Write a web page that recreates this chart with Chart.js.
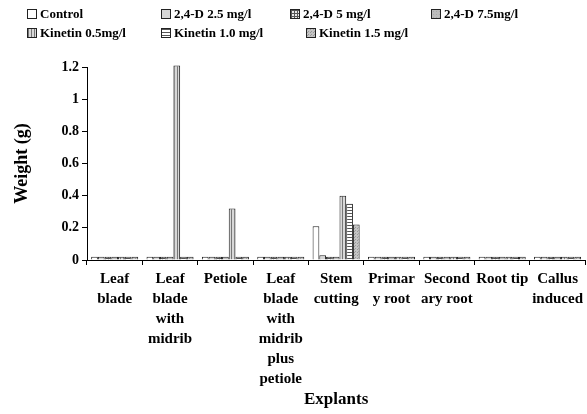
<!DOCTYPE html>
<html>
<head>
<meta charset="utf-8">
<script src="https://cdn.jsdelivr.net/npm/chart.js@4/dist/chart.umd.min.js"></script>
<style>
  html, body { margin: 0; padding: 0; background: #fff; }
  #wrap { position: relative; width: 587px; height: 414px; }
  #legend { position: absolute; left: 0; top: 0; width: 587px; height: 45px;
    font: bold 13px "Liberation Serif", serif; color: #000; }
  .item { position: absolute; white-space: nowrap; line-height: 14px; }
  .box { display: inline-block; width: 8px; height: 8px; border: 1px solid #222;
    margin-right: 3px; vertical-align: -1px; }
</style>
</head>
<body>
<div id="wrap">
  <canvas id="chart" width="587" height="414"></canvas>
  <div id="legend"></div>
</div>
<script>
// data
const categories = [
  ['Leaf', 'blade'],
  ['Leaf', 'blade', 'with', 'midrib'],
  ['Petiole'],
  ['Leaf', 'blade', 'with', 'midrib', 'plus', 'petiole'],
  ['Stem', 'cutting'],
  ['Primar', 'y root'],
  ['Second', 'ary root'],
  ['Root tip'],
  ['Callus', 'induced']
];
const seriesNames = ['Control', '2,4-D 2.5 mg/l', '2,4-D 5 mg/l', '2,4-D 7.5mg/l',
  'Kinetin 0.5mg/l', 'Kinetin 1.0 mg/l', 'Kinetin 1.5 mg/l'];
const control = [0.02, 0.02, 0.02, 0.02, 0.21, 0.02, 0.02, 0.02, 0.02];
const d25     = [0.02, 0.02, 0.02, 0.02, 0.03, 0.02, 0.02, 0.02, 0.02];
const d5      = [0.02, 0.02, 0.02, 0.02, 0.02, 0.02, 0.02, 0.02, 0.02];
const d75     = [0.02, 0.02, 0.02, 0.02, 0.02, 0.02, 0.02, 0.02, 0.02];
const k05     = [0.02, 1.21, 0.32, 0.02, 0.40, 0.02, 0.02, 0.02, 0.02];
const k10     = [0.02, 0.02, 0.02, 0.02, 0.35, 0.02, 0.02, 0.02, 0.02];
const k15     = [0.02, 0.02, 0.02, 0.02, 0.22, 0.02, 0.02, 0.02, 0.02];
const yTicks = [0, 0.2, 0.4, 0.6, 0.8, 1, 1.2];

const seriesValues = [control, d25, d5, d75, k05, k10, k15];
const fills = ['white', 'light', 'grid', 'medium', 'vlines', 'hlines', 'dots'];

// small pattern tiles, used for bars and legend boxes
function tile(kind) {
  const c = document.createElement('canvas');
  c.width = c.height = 3;
  const g = c.getContext('2d');
  const bg = { white: '#fff', light: '#d6d6d6', grid: '#e8e8e8', medium: '#bcbcbc',
    vlines: '#d8d8d8', hlines: '#fff', dots: '#c4c4c4' }[kind];
  g.fillStyle = bg;
  g.fillRect(0, 0, 3, 3);
  g.fillStyle = '#555';
  if (kind === 'grid') { g.fillRect(0, 0, 3, 1); g.fillRect(0, 0, 1, 3); }
  if (kind === 'vlines') { g.fillStyle = '#777'; g.fillRect(0, 0, 1, 3); }
  if (kind === 'hlines') { g.fillRect(0, 0, 3, 1); }
  if (kind === 'dots') { g.fillStyle = '#999'; g.fillRect(0, 0, 1, 1); g.fillRect(1, 2, 1, 1); }
  if (kind === 'medium') { g.fillStyle = '#a8a8a8'; g.fillRect(1, 1, 1, 1); }
  return c;
}

const ctx = document.getElementById('chart').getContext('2d');

// legend laid out in two rows
const legendPos = [[27, 7], [161, 7], [290, 7], [431, 7], [27, 26], [161, 26], [306, 26]];
const legend = document.getElementById('legend');
seriesNames.forEach((name, i) => {
  const item = document.createElement('div');
  item.className = 'item';
  item.style.left = legendPos[i][0] + 'px';
  item.style.top = legendPos[i][1] + 'px';
  const box = document.createElement('span');
  box.className = 'box';
  box.style.backgroundImage = 'url(' + tile(fills[i]).toDataURL() + ')';
  item.appendChild(box);
  item.appendChild(document.createTextNode(name));
  legend.appendChild(item);
});

new Chart(ctx, {
  type: 'bar',
  data: {
    labels: categories,
    datasets: seriesNames.map((name, i) => ({
      label: name,
      data: seriesValues[i],
      backgroundColor: ctx.createPattern(tile(fills[i]), 'repeat'),
      borderColor: '#222',
      borderWidth: 1,
      clip: false,
      categoryPercentage: 0.85,
      barPercentage: 1
    }))
  },
  options: {
    responsive: false,
    animation: false,
    layout: { padding: { top: 67, left: 0, right: 0, bottom: 0 } },
    plugins: { legend: { display: false }, tooltip: { enabled: false } },
    scales: {
      x: {
        grid: { display: true, drawOnChartArea: false, tickLength: 5, color: '#000', offset: true },
        border: { color: '#000' },
        ticks: { color: '#000', maxRotation: 0, autoSkip: false, padding: 4,
          font: { family: 'Liberation Serif', weight: 'bold', size: 15, lineHeight: 1.34 } },
        title: { display: true, text: 'Explants', color: '#000', padding: { top: 0, bottom: 4 },
          font: { family: 'Liberation Serif', weight: 'bold', size: 17 } },
        afterFit: (scale) => { scale.height = 154; }
      },
      y: {
        min: 0,
        max: 1.2,
        grid: { display: true, drawOnChartArea: false, tickLength: 5, color: '#000' },
        border: { color: '#000' },
        ticks: { color: '#000', padding: 3,
          callback: (v) => String(Math.round(v * 10) / 10),
          font: { family: 'Liberation Serif', weight: 'bold', size: 14 } },
        afterBuildTicks: (scale) => { scale.ticks = yTicks.map(v => ({ value: v })); },
        title: { display: true, text: 'Weight (g)', color: '#000', padding: { top: 12, bottom: 0 },
          font: { family: 'Liberation Serif', weight: 'bold', size: 18 } },
        afterFit: (scale) => { scale.width = 87; }
      }
    }
  }
});
</script>
</body>
</html>
